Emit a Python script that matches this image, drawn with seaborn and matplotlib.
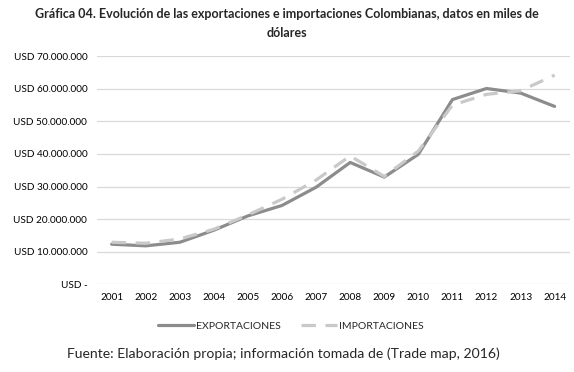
import matplotlib
matplotlib.use("Agg")
import matplotlib.pyplot as plt
import seaborn as sns
import pandas as pd
from matplotlib.ticker import FixedLocator
from matplotlib.lines import Line2D

years = [2001, 2002, 2003, 2004, 2005, 2006, 2007, 2008, 2009, 2010, 2011, 2012, 2013, 2014]
exportaciones = [12.3, 11.8, 12.9, 16.6, 21.0, 24.2, 29.8, 37.4, 32.9, 39.9, 56.7, 60.1, 58.7, 54.6]
importaciones = [12.9, 12.6, 13.9, 16.9, 21.3, 26.1, 32.0, 39.4, 33.1, 40.9, 55.0, 58.3, 59.4, 64.2]
ytick_values = [0, 10, 20, 30, 40, 50, 60, 70]
ytick_labels = ["USD -", "USD 10.000.000", "USD 20.000.000", "USD 30.000.000",
                "USD 40.000.000", "USD 50.000.000", "USD 60.000.000", "USD 70.000.000"]

sns.set_theme(style="white")
plt.rcParams['font.family'] = ['Lato', 'DejaVu Sans']

df = pd.DataFrame({"year": years * 2,
                   "value": exportaciones + importaciones,
                   "serie": ["EXPORTACIONES"] * len(years) + ["IMPORTACIONES"] * len(years)})

fig = plt.figure(figsize=(5.74, 3.72), dpi=100)
ax = fig.add_axes([0.169, 0.2358, 0.824, 0.613])

exp_color = "#8c8c8c"
imp_color = "#c9c9c9"

ax.yaxis.grid(True, color="#d9d9d9", linewidth=0.9)
ax.set_axisbelow(True)

sns.lineplot(data=df[df.serie == "EXPORTACIONES"], x="year", y="value", ax=ax,
             color=exp_color, linewidth=2.3, legend=False)
sns.lineplot(data=df[df.serie == "IMPORTACIONES"], x="year", y="value", ax=ax,
             color=imp_color, linewidth=2.3, legend=False)
ax.lines[1].set_dashes([4.5, 3])

ax.set_xlim(2000.57, 2014.45)
ax.set_ylim(0, 70)
ax.yaxis.set_major_locator(FixedLocator(ytick_values))
ax.set_yticklabels(ytick_labels)
ax.set_xticks(years)
ax.set_xticklabels([str(y) for y in years])
ax.tick_params(axis="both", labelsize=7.2, colors="#000000", length=0, pad=6)
ax.tick_params(axis="y", pad=7)
for s in ax.spines.values():
    s.set_visible(False)
ax.set_xlabel("")
ax.set_ylabel("")

handles = [Line2D([0], [0], color=exp_color, linewidth=2.3),
           Line2D([0], [0], color=imp_color, linewidth=2.3, dashes=[4.5, 3])]
fig.legend(handles, ["EXPORTACIONES", "IMPORTACIONES"], loc="center",
           bbox_to_anchor=(0.507, 0.124), ncol=2, frameon=False, fontsize=7.5,
           handlelength=3.45, columnspacing=2.0, handletextpad=0.15)

fig.text(0.5, 0.963, "Gráfica 04. Evolución de las exportaciones e importaciones Colombianas, datos en miles de",
         ha="center", va="center", fontsize=9, fontweight="bold")
fig.text(0.5, 0.912, "dólares", ha="center", va="center", fontsize=9, fontweight="bold")
fig.text(0.493, 0.048, "Fuente: Elaboración propia; información tomada de (Trade map, 2016)",
         ha="center", va="center", fontsize=10.1)

fig.savefig("out.png", dpi=100)
